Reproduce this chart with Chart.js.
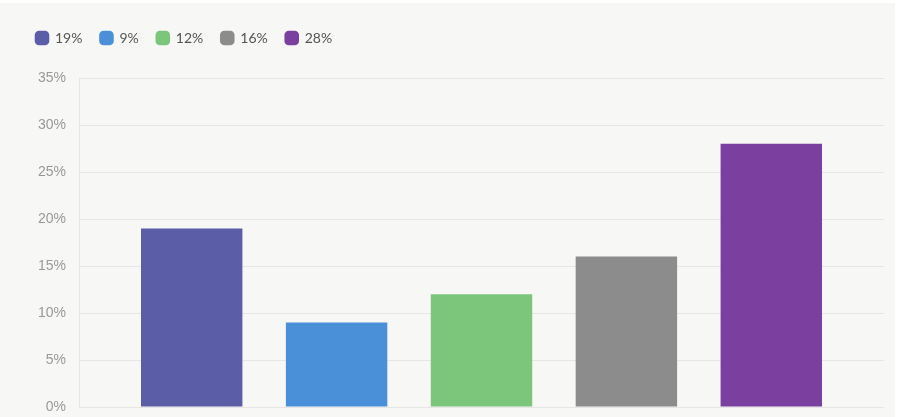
<!DOCTYPE html>
<html>
<head>
<meta charset="utf-8">
<script src="https://cdn.jsdelivr.net/npm/chart.js@4"></script>
<style>
  html, body { margin: 0; padding: 0; background: #ffffff; }
  #wrap { position: absolute; left: 0; top: 3px; width: 895px; height: 414px; background: #f7f7f6; }
  canvas { display: block; }
</style>
</head>
<body>
<div id="wrap"><canvas id="myChart" width="895" height="414"></canvas></div>
<script>
const labels = [''];
const seriesNames = ['19%', '9%', '12%', '16%', '28%'];
const seriesValues = [19, 9, 12, 16, 28];
const seriesColors = ['#5b5ea6', '#4a90d9', '#7bc67b', '#8c8c8c', '#7b3fa0'];
const yTicks = [0, 5, 10, 15, 20, 25, 30, 35];

// push the plot down below the legend
const legendGap = {
    id: 'legendGap',
    beforeInit(chart) {
        const fit = chart.legend.fit;
        chart.legend.fit = function () {
            fit.bind(chart.legend)();
            this.height += 23;
        };
    }
};

let ctx = document.getElementById('myChart').getContext('2d');

let userChart = new Chart(ctx, {
    type: 'bar',
    data: {
        labels: labels,
        datasets: seriesNames.map((name, i) => ({
            label: name,
            data: [seriesValues[i]],
            backgroundColor: seriesColors[i],
            borderWidth: 0,
            categoryPercentage: 0.9,
            barPercentage: 0.7,
        }))
    },
    options: {
        responsive: false,
        animation: false,
        layout: { padding: { left: 18, right: 11, top: 10, bottom: 10 } },
        plugins: {
            legend: {
                align: 'start',
                labels: {
                    usePointStyle: true,
                    pointStyle: 'rectRounded',
                    boxWidth: 12,
                    boxHeight: 12,
                    padding: 18,
                    color: '#555555',
                    font: { family: 'Lato', size: 14 }
                }
            },
            tooltip: { enabled: false }
        },
        scales: {
            x: {
                display: false
            },
            y: {
                min: 0,
                max: 35,
                afterBuildTicks: axis => { axis.ticks = yTicks.map(v => ({ value: v })); },
                afterFit: axis => { axis.width = 61; axis.paddingBottom = 0; axis.paddingTop = 0; },
                ticks: {
                    color: '#999999',
                    font: { family: 'Liberation Sans', size: 14 },
                    padding: 13,
                    callback: v => v + '%'
                },
                grid: { color: '#e6e6e6', drawTicks: false },
                border: { color: '#e6e6e6' }
            }
        }
    },
    plugins: [legendGap]
});
</script>
</body>
</html>
